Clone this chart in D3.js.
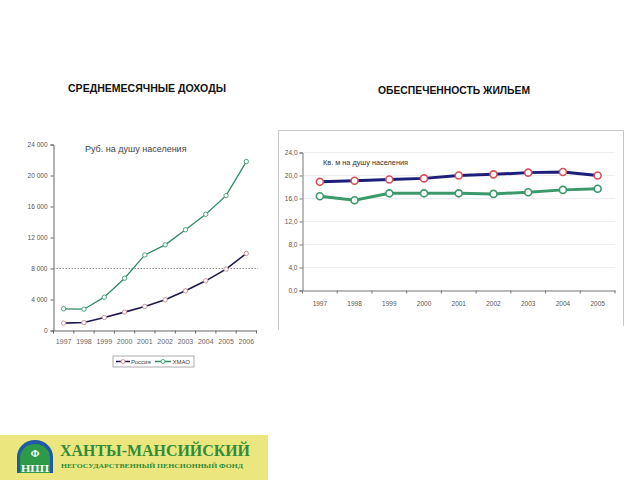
<!DOCTYPE html>
<html>
<head>
<meta charset="utf-8">
<script src="https://cdnjs.cloudflare.com/ajax/libs/d3/7.8.5/d3.min.js"></script>
<style>
  html, body { margin: 0; padding: 0; background: #fff; }
  svg { display: block; font-family: "Liberation Sans", Arial, sans-serif; }
</style>
</head>
<body>
<svg id="chart" width="640" height="480"></svg>
<script>
// ---------- DATA ----------
const incomeYears = ["1997","1998","1999","2000","2001","2002","2003","2004","2005","2006"];
const incomeRussia = [950, 1030, 1680, 2370, 3100, 3960, 5120, 6410, 7920, 9940];
const incomeKhmao  = [2800, 2750, 4300, 6750, 9750, 11050, 13000, 15000, 17400, 21800];
const incomeTicks  = [0, 4000, 8000, 12000, 16000, 20000, 24000];
const incomeRefLine = 8000;

const housingYears = ["1997","1998","1999","2000","2001","2002","2003","2004","2005"];
const housingKhmao  = [18.9, 19.1, 19.3, 19.5, 20.0, 20.2, 20.5, 20.6, 20.0];
const housingRussia = [16.4, 15.7, 16.9, 16.9, 16.9, 16.8, 17.1, 17.5, 17.7];
const housingTicks  = [0, 4, 8, 12, 16, 20, 24];

const svg = d3.select("#chart");

// ---------- HEADINGS ----------
svg.append("text").attr("x", 68).attr("y", 92)
  .attr("font-size", 10).attr("font-weight", "bold").attr("fill", "#111")
  .attr("textLength", 158).attr("lengthAdjust", "spacingAndGlyphs")
  .text("СРЕДНЕМЕСЯЧНЫЕ  ДОХОДЫ");
svg.append("text").attr("x", 378).attr("y", 94)
  .attr("font-size", 10).attr("font-weight", "bold").attr("fill", "#111")
  .attr("textLength", 152).attr("lengthAdjust", "spacingAndGlyphs")
  .text("ОБЕСПЕЧЕННОСТЬ ЖИЛЬЕМ");

// ---------- LEFT CHART ----------
const xL = d3.scaleBand().domain(incomeYears).range([53.5, 256.5]);
const yL = d3.scaleLinear().domain([0, 24000]).range([330.5, 144.5]);
const fmtL = v => v === 0 ? "0" : d3.format(",")(v).replace(/,/g, " ");

const gL = svg.append("g");
// y axis
const yAxisL = d3.axisLeft(yL).tickValues(incomeTicks).tickSize(3).tickFormat(fmtL);
gL.append("g").attr("transform", "translate(53.5,0)").call(yAxisL)
  .call(g => { g.select(".domain").attr("stroke", "#666");
    g.selectAll(".tick line").attr("stroke", "#666");
    g.selectAll(".tick text").attr("font-size", 6.5).attr("fill", "#555").attr("font-family", "Liberation Sans").attr("x", -6); });
// x axis
const xAxisL = d3.axisBottom(xL).tickSize(0).tickPadding(9);
gL.append("g").attr("transform", "translate(0,330.5)").call(xAxisL)
  .call(g => { g.select(".domain").attr("stroke", "#666");
    g.selectAll(".tick text").attr("font-size", 7).attr("fill", "#666").attr("font-family", "Liberation Sans"); });
// x tick marks at band boundaries
gL.append("g").selectAll("line").data(incomeYears.concat(["end"])).join("line")
  .attr("x1", (d, i) => xL.range()[0] + i * xL.step()).attr("x2", (d, i) => xL.range()[0] + i * xL.step())
  .attr("y1", 330.5).attr("y2", 333.5).attr("stroke", "#666");
// dotted reference line
gL.append("line").attr("x1", 53.5).attr("x2", 258).attr("y1", yL(incomeRefLine)).attr("y2", yL(incomeRefLine))
  .attr("stroke", "#777").attr("stroke-width", 0.8).attr("stroke-dasharray", "1.5,1.5");
// subtitle
gL.append("text").attr("x", 85).attr("y", 152).attr("font-size", 9).attr("fill", "#444")
  .text("Руб.  на душу населения");

const lineL = d3.line().x((d, i) => xL(incomeYears[i]) + xL.bandwidth() / 2).y(d => yL(d));
const seriesL = [
  { vals: incomeKhmao, line: "#2f8a62", mark: "#3a9a70", w: 1.3 },
  { vals: incomeRussia, line: "#1e1b4a", mark: "#c98a9a", w: 1.6 }
];
seriesL.forEach(s => {
  gL.append("path").datum(s.vals).attr("d", lineL).attr("fill", "none")
    .attr("stroke", s.line).attr("stroke-width", s.w);
  gL.append("g").selectAll("circle").data(s.vals).join("circle")
    .attr("cx", (d, i) => xL(incomeYears[i]) + xL.bandwidth() / 2).attr("cy", d => yL(d))
    .attr("r", 2.2).attr("fill", "#fff").attr("stroke", s.mark).attr("stroke-width", 0.9);
});
// legend
const lg = gL.append("g");
lg.append("rect").attr("x", 113).attr("y", 356).attr("width", 81).attr("height", 11)
  .attr("fill", "#fff").attr("stroke", "#888").attr("stroke-width", 0.7);
[{ x: 116, w: 14, tx: 131, label: "Россия", line: "#1e1b4a", mark: "#c98a9a" },
 { x: 155, w: 16, tx: 172.5, label: "ХМАО", line: "#2f8a62", mark: "#3a9a70" }].forEach(it => {
  lg.append("line").attr("x1", it.x).attr("x2", it.x + it.w).attr("y1", 361.5).attr("y2", 361.5)
    .attr("stroke", it.line).attr("stroke-width", 1.5);
  lg.append("circle").attr("cx", it.x + it.w / 2).attr("cy", 361.5).attr("r", 2)
    .attr("fill", "#fff").attr("stroke", it.mark).attr("stroke-width", 0.9);
  lg.append("text").attr("x", it.tx).attr("y", 364).attr("font-size", 6).attr("fill", "#444").text(it.label);
});

// ---------- RIGHT CHART ----------
const gR = svg.append("g");
// frame (open at bottom)
gR.append("path").attr("d", "M278.5,330 L278.5,130.5 L623.5,130.5 L623.5,326")
  .attr("fill", "none").attr("stroke", "#c8c8c8").attr("stroke-width", 1);

const xR = d3.scaleBand().domain(housingYears).range([302.5, 615]);
const yR = d3.scaleLinear().domain([0, 24]).range([290.5, 152.5]);

// gridlines
gR.append("g").selectAll("line").data(housingTicks.slice(1)).join("line")
  .attr("x1", 302.5).attr("x2", 615).attr("y1", d => yR(d)).attr("y2", d => yR(d))
  .attr("stroke", "#eeeeee").attr("stroke-width", 1);

const yAxisR = d3.axisLeft(yR).tickValues(housingTicks).tickSize(3)
  .tickFormat(d => d3.format(".1f")(d).replace(".", ","));
gR.append("g").attr("transform", "translate(302.5,0)").call(yAxisR)
  .call(g => { g.select(".domain").attr("stroke", "#777");
    g.selectAll(".tick line").attr("stroke", "#777");
    g.selectAll(".tick text").attr("font-size", 6.5).attr("fill", "#555").attr("font-family", "Liberation Sans Narrow, Liberation Sans").attr("x", -5); });
const xAxisR = d3.axisBottom(xR).tickSize(0).tickPadding(11);
gR.append("g").attr("transform", "translate(0,290.5)").call(xAxisR)
  .call(g => { g.select(".domain").attr("stroke", "#777");
    g.selectAll(".tick text").attr("font-size", 6.5).attr("fill", "#555").attr("font-family", "Liberation Sans Narrow, Liberation Sans"); });
gR.append("g").selectAll("line").data(housingYears.concat(["end"])).join("line")
  .attr("x1", (d, i) => xR.range()[0] + i * xR.step()).attr("x2", (d, i) => xR.range()[0] + i * xR.step())
  .attr("y1", 290.5).attr("y2", 293.5).attr("stroke", "#777");

gR.append("text").attr("x", 323).attr("y", 165).attr("font-size", 7).attr("fill", "#333")
  .attr("textLength", 85).attr("lengthAdjust", "spacingAndGlyphs")
  .text("Кв. м на душу населения");

const lineR = d3.line().x((d, i) => xR(housingYears[i]) + xR.bandwidth() / 2).y(d => yR(d));
const seriesR = [
  { vals: housingKhmao, line: "#1c1f7a", mark: "#d9505a" },
  { vals: housingRussia, line: "#3a9a6a", mark: "#3a9a6a" }
];
seriesR.forEach(s => {
  gR.append("path").datum(s.vals).attr("d", lineR).attr("fill", "none")
    .attr("stroke", s.line).attr("stroke-width", 3);
  gR.append("g").selectAll("circle").data(s.vals).join("circle")
    .attr("cx", (d, i) => xR(housingYears[i]) + xR.bandwidth() / 2).attr("cy", d => yR(d))
    .attr("r", 3.5).attr("fill", "#fff").attr("stroke", s.mark).attr("stroke-width", 1.6);
});

// ---------- LOGO ----------
const lgo = svg.append("g");
lgo.append("rect").attr("x", 0).attr("y", 435).attr("width", 268).attr("height", 45).attr("fill", "#ece67f");
// emblem
lgo.append("path").attr("d", "M17,473 L17,457 A18,17 0 0 1 53,457 L53,473 Z").attr("fill", "#1f5aa6");
lgo.append("path").attr("d", "M20,473 L20,458 A15,14 0 0 1 50,458 L50,473 Z").attr("fill", "#2e9a48");
lgo.append("text").attr("x", 35).attr("y", 457).attr("text-anchor", "middle").attr("font-size", 10)
  .attr("font-weight", "bold").attr("font-family", "Liberation Serif").attr("fill", "#fff").text("Ф");
lgo.append("text").attr("x", 35).attr("y", 472).attr("text-anchor", "middle").attr("font-size", 11)
  .attr("font-weight", "bold").attr("font-family", "Liberation Serif").attr("fill", "#fff")
  .attr("textLength", 28).attr("lengthAdjust", "spacingAndGlyphs").text("НПП");
lgo.append("text").attr("x", 60).attr("y", 456).attr("font-size", 17).attr("font-weight", "bold")
  .attr("font-family", "Liberation Serif").attr("fill", "#2e8c3a")
  .attr("textLength", 190).attr("lengthAdjust", "spacingAndGlyphs").text("ХАНТЫ-МАНСИЙСКИЙ");
lgo.append("text").attr("x", 61).attr("y", 468).attr("font-size", 6.5).attr("font-weight", "bold")
  .attr("font-family", "Liberation Serif").attr("fill", "#2e8c3a")
  .attr("textLength", 182).attr("lengthAdjust", "spacingAndGlyphs").text("НЕГОСУДАРСТВЕННЫЙ ПЕНСИОННЫЙ ФОНД");
</script>
</body>
</html>
